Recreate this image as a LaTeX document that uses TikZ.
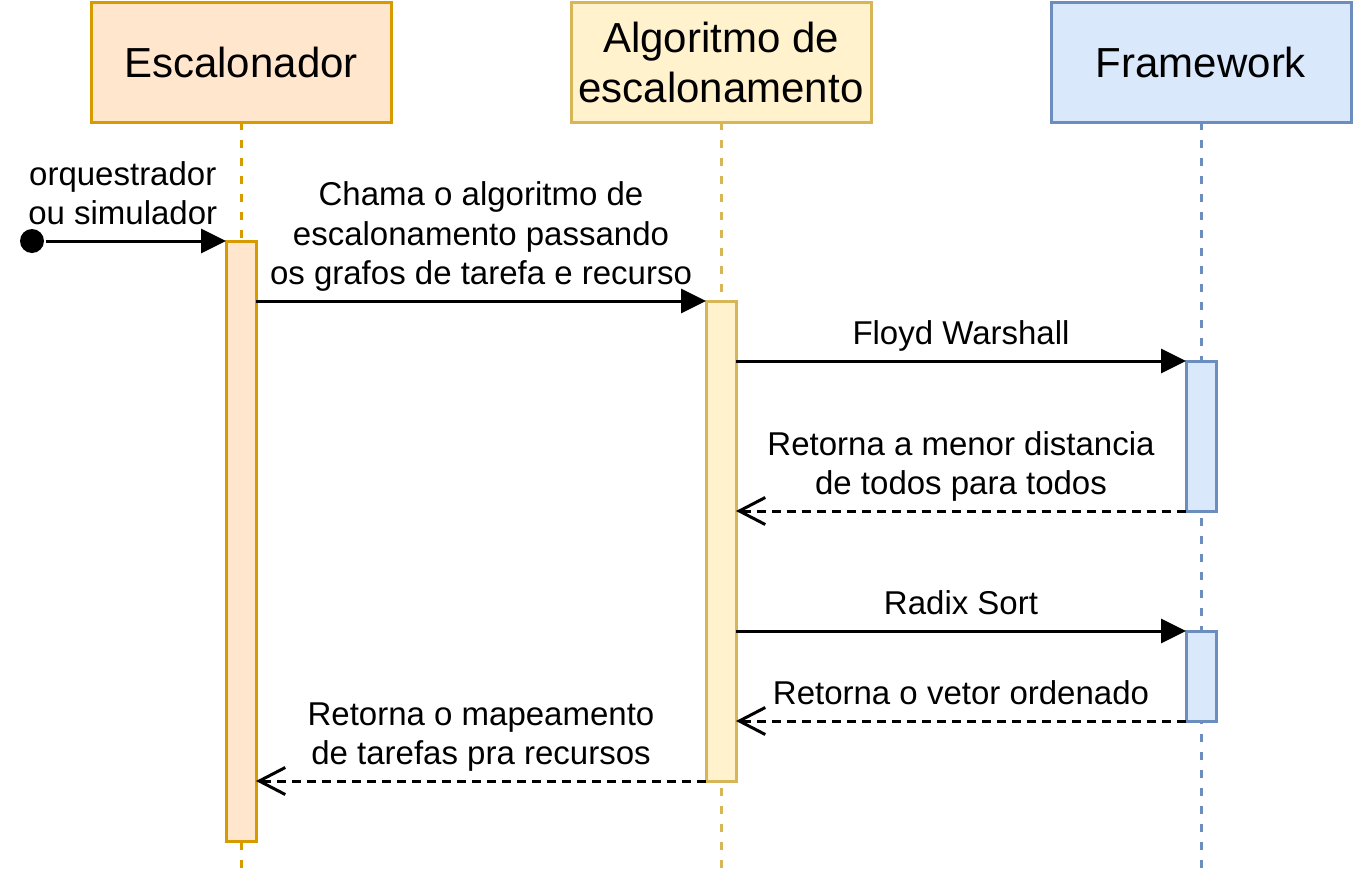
\documentclass[tikz,border=0pt]{standalone}
\usepackage{fontspec}
\setmainfont{Liberation Sans}
\usepackage{xcolor}
\usetikzlibrary{arrows.meta, positioning}

\definecolor{escfill}{HTML}{FFE6CC}
\definecolor{escline}{HTML}{D79B00}
\definecolor{algfill}{HTML}{FFF2CC}
\definecolor{algline}{HTML}{D6B656}
\definecolor{fwfill}{HTML}{DAE8FC}
\definecolor{fwline}{HTML}{6C8EBF}

\begin{document}
\begin{tikzpicture}[x=1pt, y=-1pt, line width=3pt]
\tikzstyle{header} = [rectangle, draw, minimum width=300pt, minimum height=120pt,
    outer sep=0pt, inner sep=0pt, align=center, font=\fontsize{42}{50}\selectfont]
\tikzstyle{activation} = [rectangle, draw, minimum width=30pt, outer sep=0pt, inner sep=0pt]
\tikzstyle{lifeline} = [dash pattern=on 8pt off 10pt]
\tikzstyle{call} = [-{Triangle[length=25pt, width=24pt]}]
\tikzstyle{reply} = [dash pattern=on 9pt off 6pt, -{Straight Barb[length=26pt, width=27pt, line width=3pt]}]
\tikzstyle{msg} = [midway, above=15pt, inner sep=0pt, text depth=0pt, align=center,
    font=\fontsize{33}{39.5}\selectfont]

\useasboundingbox (0,0) rectangle (1353,873);

% Nodes
\node [header, fill=escfill, draw=escline] (esc) at (241,62) {Escalonador};
\node [header, fill=algfill, draw=algline, right=180pt of esc] (alg) {Algoritmo de\\escalonamento};
\node [header, fill=fwfill, draw=fwline, right=180pt of alg] (fw) {Framework};

% Lifelines
\draw [lifeline, draw=escline] (esc.south) -- (esc.south |- 0,873);
\draw [lifeline, draw=algline] (alg.south) -- (alg.south |- 0,873);
\draw [lifeline, draw=fwline] (fw.south) -- (fw.south |- 0,873);

% Activations
\node [activation, fill=escfill, draw=escline, minimum height=600pt] (escbar) at (241,541) {};
\node [activation, fill=algfill, draw=algline, minimum height=480pt] (algbar) at (721,541) {};
\node [activation, fill=fwfill, draw=fwline, minimum height=150pt] (fwbar1) at (1201,436) {};
\node [activation, fill=fwfill, draw=fwline, minimum height=90pt] (fwbar2) at (1201,676) {};
\node [circle, fill=black, inner sep=0pt, minimum size=24pt] (start) at (32,241) {};

% Arrows
\draw [call] (start) -- node [msg, xshift=-13pt] {orquestrador\\ou simulador} (escbar.north west);
\draw [call] (escbar.east |- algbar.north) -- node [msg] {Chama o algoritmo de\\escalonamento passando\\os grafos de tarefa e recurso} (algbar.north west);
\draw [call] (algbar.east |- fwbar1.north) -- node [msg] {Floyd Warshall} (fwbar1.north west);
\draw [reply] (fwbar1.south west) -- node [msg] {Retorna a menor distancia\\de todos para todos} (algbar.east |- fwbar1.south);
\draw [call] (algbar.east |- fwbar2.north) -- node [msg] {Radix Sort} (fwbar2.north west);
\draw [reply] (fwbar2.south west) -- node [msg] {Retorna o vetor ordenado} (algbar.east |- fwbar2.south);
\draw [reply] (algbar.south west) -- node [msg] {Retorna o mapeamento\\de tarefas pra recursos} (escbar.east |- algbar.south);
\end{tikzpicture}
\end{document}
